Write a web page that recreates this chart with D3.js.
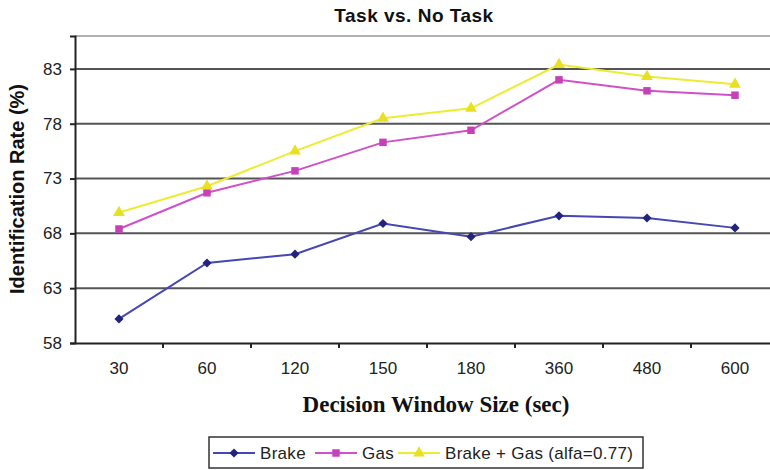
<!DOCTYPE html>
<html>
<head>
<meta charset="utf-8">
<script src="https://cdn.jsdelivr.net/npm/d3@7"></script>
<style>
  body { margin: 0; background: #fff; }
  svg { display: block; }
</style>
</head>
<body>
<svg id="chart" width="770" height="470"></svg>
<script>
// data
var categories = ["30", "60", "120", "150", "180", "360", "480", "600"];
var brake = [60.2, 65.3, 66.1, 68.9, 67.7, 69.6, 69.4, 68.5];
var gas = [68.4, 71.7, 73.7, 76.3, 77.4, 82.0, 81.0, 80.6];
var combined = [69.9, 72.3, 75.5, 78.5, 79.4, 83.4, 82.3, 81.6];
var yTicks = [58, 63, 68, 73, 78, 83];
var seriesNames = ["Brake", "Gas", "Brake + Gas (alfa=0.77)"];

var series = [
  { name: seriesNames[0], values: brake, line: "#4646b4", fill: "#23237e", shape: d3.symbolSquare, size: 42, rot: 45 },
  { name: seriesNames[1], values: gas, line: "#d050c8", fill: "#c840b8", shape: d3.symbolSquare, size: 56, rot: 0 },
  { name: seriesNames[2], values: combined, line: "#ecec30", fill: "#e8e020", shape: d3.symbolTriangle, size: 60, rot: 0 }
];

var font = "Arial, 'Liberation Sans', sans-serif";
var svg = d3.select("#chart");
var m = { left: 75, top: 36, right: 779, bottom: 343 };

var x = d3.scaleBand().domain(categories).range([m.left, m.right]);
var y = d3.scaleLinear().domain([58, 86]).range([m.bottom, m.top]);

// top border
svg.append("line")
  .attr("x1", m.left).attr("x2", 770)
  .attr("y1", m.top).attr("y2", m.top)
  .attr("stroke", "#b0b0b0").attr("stroke-width", 2);

// gridlines
svg.append("g").selectAll("line")
  .data(yTicks.slice(1))
  .enter().append("line")
  .attr("x1", m.left).attr("x2", 770)
  .attr("y1", d => y(d)).attr("y2", d => y(d))
  .attr("stroke", "#555").attr("stroke-width", 2);

// y axis
var yAxis = svg.append("g")
  .attr("transform", "translate(" + m.left + ",0)")
  .call(d3.axisLeft(y).tickValues(yTicks).tickSize(5).tickPadding(8));
yAxis.select(".domain").attr("stroke", "#222").attr("stroke-width", 2);
yAxis.selectAll("line").attr("stroke", "#222").attr("stroke-width", 2);
yAxis.selectAll("text").attr("font-family", font)
  .attr("font-size", 17).attr("fill", "#222");

// x axis
var xAxis = svg.append("g")
  .attr("transform", "translate(0," + m.bottom + ")")
  .call(d3.axisBottom(x).tickSize(0).tickPadding(19));
xAxis.select(".domain").attr("stroke", "#222").attr("stroke-width", 2);
xAxis.selectAll("text").attr("font-family", font)
  .attr("font-size", 17).attr("fill", "#222");
// tick marks between categories
svg.append("g").selectAll("line")
  .data(categories)
  .enter().append("line")
  .attr("x1", d => x(d) + x.bandwidth()).attr("x2", d => x(d) + x.bandwidth())
  .attr("y1", m.bottom).attr("y2", m.bottom + 5)
  .attr("stroke", "#222").attr("stroke-width", 2);

// lines and markers
var line = d3.line()
  .x((d, i) => x(categories[i]) + x.bandwidth() / 2)
  .y(d => y(d));

series.forEach(s => {
  svg.append("path")
    .attr("d", line(s.values))
    .attr("fill", "none")
    .attr("stroke", s.line)
    .attr("stroke-width", 2);
  svg.append("g").selectAll("path")
    .data(s.values)
    .enter().append("path")
    .attr("transform", (d, i) => "translate(" + (x(categories[i]) + x.bandwidth() / 2) + "," + y(d) + ") rotate(" + s.rot + ")")
    .attr("d", d3.symbol().type(s.shape).size(s.size))
    .attr("fill", s.fill);
});

// title
svg.append("text")
  .attr("x", 414).attr("y", 22)
  .attr("text-anchor", "middle")
  .attr("font-family", font)
  .attr("font-weight", "bold").attr("font-size", 19)
  .attr("letter-spacing", 0.5)
  .attr("fill", "#111")
  .text("Task vs. No Task");

// y title
svg.append("text")
  .attr("transform", "translate(24,189) rotate(-90)")
  .attr("text-anchor", "middle")
  .attr("font-family", font)
  .attr("font-weight", "bold").attr("font-size", 20)
  .attr("fill", "#111")
  .text("Identification Rate (%)");

// x title
svg.append("text")
  .attr("x", 436).attr("y", 412)
  .attr("text-anchor", "middle")
  .attr("font-family", "'Liberation Serif', 'Times New Roman', serif")
  .attr("font-weight", "bold").attr("font-size", 23)
  .attr("fill", "#111")
  .text("Decision Window Size (sec)");

// legend
var lg = svg.append("g");
lg.append("rect")
  .attr("x", 209).attr("y", 437).attr("width", 434).attr("height", 31)
  .attr("fill", "#fff").attr("stroke", "#333").attr("stroke-width", 1.5);
var legX = [213, 315, 398];
series.forEach((s, i) => {
  var g = lg.append("g").attr("transform", "translate(" + legX[i] + ",453)");
  g.append("line").attr("x1", 0).attr("x2", 42).attr("stroke", s.line).attr("stroke-width", 2);
  g.append("path").attr("transform", "translate(21,0) rotate(" + s.rot + ")")
    .attr("d", d3.symbol().type(s.shape).size(s.size)).attr("fill", s.fill);
  g.append("text").attr("x", 47).attr("y", 6)
    .attr("font-family", font)
    .attr("font-size", 17).attr("letter-spacing", 0.3).attr("fill", "#222")
    .text(s.name);
});
</script>
</body>
</html>
